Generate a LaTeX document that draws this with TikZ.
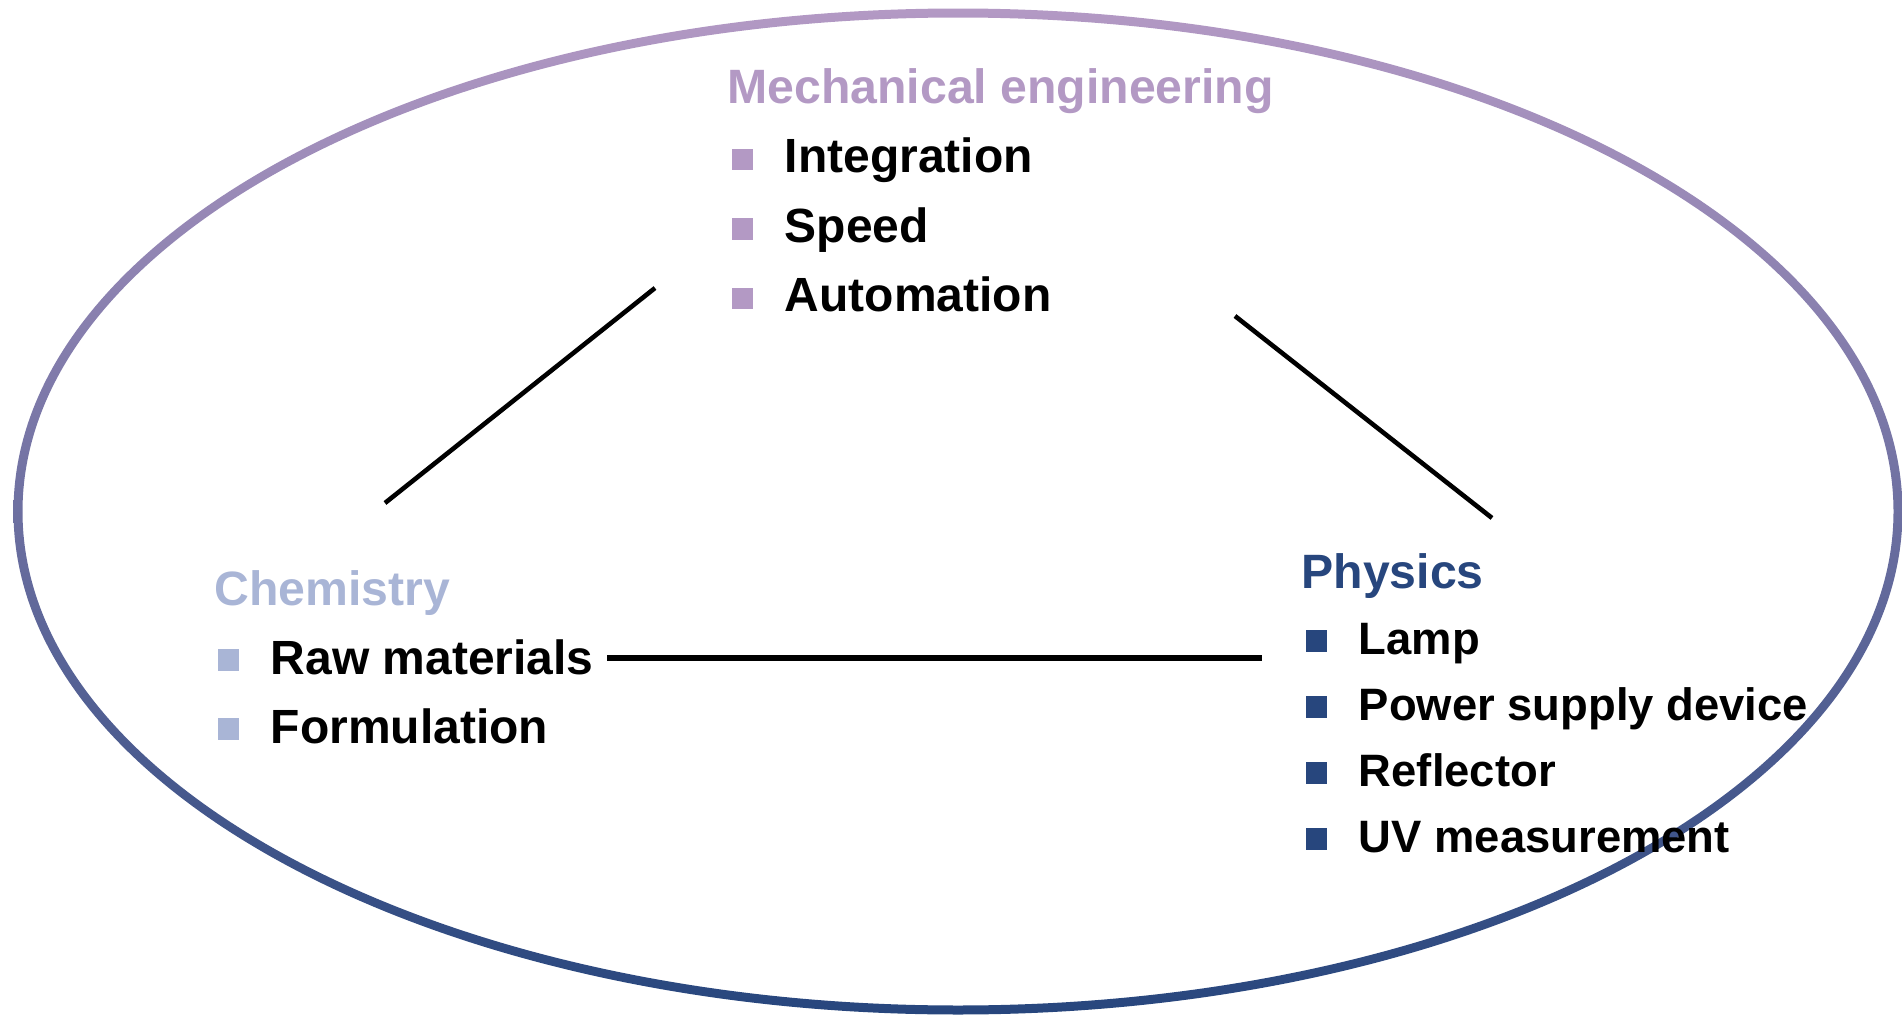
\documentclass[tikz,border=0pt]{standalone}
\usepackage{fontspec}
\setmainfont{Liberation Sans}
\usetikzlibrary{calc}
\usetikzlibrary{positioning}
\definecolor{mechcol}{RGB}{179,153,196}
\definecolor{chemcol}{RGB}{169,181,214}
\definecolor{physcol}{RGB}{39,70,125}
\definecolor{ringmid}{RGB}{137,120,167}
\tikzset{
  head/.style={anchor=base west, inner sep=0, font=\fontsize{24.1}{29}\selectfont\bfseries},
  item/.style={anchor=base west, inner sep=0, font=\fontsize{24}{29}\selectfont\bfseries},
  bullet/.style={fill=#1, minimum size=10.8pt, inner sep=0},
  link/.style={black, line width=2.3pt},
}
\begin{document}
\begin{tikzpicture}[x=0.5pt, y=-0.5pt]
\useasboundingbox (0,0) rectangle (1903,1017);
% outer ring
\shade[top color=mechcol, middle color=ringmid, bottom color=physcol, even odd rule]
  (958,511.5) ellipse (944.5 and 503) (958,511.5) ellipse (935.5 and 494);
% mechanical engineering
\node[head, text=mechcol] (mech) at (727,103) {Mechanical engineering};
\foreach \t [count=\i] in {Integration, Speed, Automation} {
 \node[item] (mech\i) at (784.5,{103+69.5*\i}) {\t};
 \node[bullet=mechcol] (mechb\i) at ($(mech\i.base west)+(-42,-13)$) {};
}
% chemistry
\node[head, text=chemcol] (chem) at (214,605) {Chemistry};
\foreach \t [count=\i] in {Raw materials, Formulation} {
 \node[item] (chem\i) at (270.5,{605+69*\i}) {\t};
 \node[bullet=chemcol] (chemb\i) at ($(chem\i.base west)+(-42,-14)$) {};
}
% physics
\node[head, text=physcol] (phys) at (1301,588) {Physics};
\foreach \t [count=\i] in {Lamp, Power supply device, Reflector, UV measurement} {
 \node[item, font=\fontsize{22.7}{27}\selectfont\bfseries] (phys\i) at (1358.5,{588+66*\i}) {\t};
 \node[bullet=physcol] (physb\i) at ($(phys\i.base west)+(-42,-13)$) {};
}
% links
\coordinate (mech-l) at (655,288);
\coordinate (chem-t) at (385,503);
\coordinate (mech-r) at (1235,316);
\coordinate (phys-t) at (1492,518);
\coordinate (chem-r) at (607,658);
\coordinate (phys-l) at (1262,658);
\draw[link] (mech-l) -- (chem-t);
\draw[link] (mech-r) -- (phys-t);
\draw[link, line width=2.8pt] (chem-r) -- (phys-l);
\end{tikzpicture}
\end{document}
